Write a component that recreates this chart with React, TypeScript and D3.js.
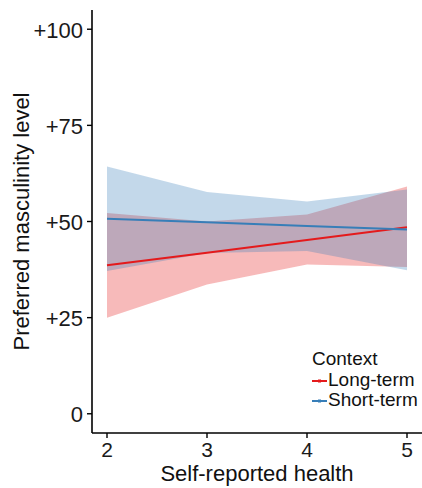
import React from "react";
import * as d3 from "d3";

// Self-reported health levels on the x axis
const healthLevels = [2, 3, 4, 5];

// Long-term context: fitted preference and confidence band
const longFit = [38.6, 41.9, 45.2, 48.5];
const longLower = [25.0, 33.6, 38.8, 38.2];
const longUpper = [52.2, 50.0, 51.8, 59.1];

// Short-term context: fitted preference and confidence band
const shortFit = [50.7, 49.8, 48.8, 47.9];
const shortLower = [37.1, 41.8, 42.3, 37.3];
const shortUpper = [64.3, 57.7, 55.2, 58.3];

const yTicks = [0, 25, 50, 75, 100];
const yTickLabels = ["0", "+25", "+50", "+75", "+100"];
const xTicks = [2, 3, 4, 5];

const legendTitle = "Context";
const legendLabels = ["Long-term", "Short-term"];

const W = 422;
const H = 488;
const FONT = "'Liberation Sans', Arial, Helvetica, sans-serif";
const RED = "#E41A1C";
const BLUE = "#377EB8";

export default function App() {
  const panel = { left: 92, right: 422, top: 10, bottom: 433 };
  const x = d3.scaleLinear().domain([1.85, 5.15]).range([panel.left, panel.right]);
  const y = d3.scaleLinear().domain([-5, 105]).range([panel.bottom, panel.top]);

  const series = [
    { color: RED, fit: longFit, lower: longLower, upper: longUpper },
    { color: BLUE, fit: shortFit, lower: shortLower, upper: shortUpper },
  ];

  const area = (lo: number[], hi: number[]) =>
    d3
      .area<number>()
      .x((d) => x(d))
      .y0((_, i) => y(lo[i]))
      .y1((_, i) => y(hi[i]))(healthLevels) as string;

  const line = (vals: number[]) =>
    d3
      .line<number>()
      .x((d) => x(d))
      .y((_, i) => y(vals[i]))(healthLevels) as string;

  const legendX = 312;
  const legendRows = [381, 401];

  return (
    <svg
      width={W}
      height={H}
      style={{ position: "absolute", left: 0, top: 0, background: "#fff" }}
      fontFamily={FONT}
    >
      {/* confidence bands */}
      {series.map((s, i) => (
        <path key={"band" + i} d={area(s.lower, s.upper)} fill={s.color} fillOpacity={0.3} stroke="none" />
      ))}
      {/* fitted lines */}
      {series.map((s, i) => (
        <path key={"line" + i} d={line(s.fit)} fill="none" stroke={s.color} strokeWidth={2} />
      ))}

      {/* y axis */}
      <line x1={panel.left} x2={panel.left} y1={panel.top} y2={panel.bottom} stroke="#000" strokeWidth={1.6} />
      {yTicks.map((t, i) => (
        <g key={"yt" + t}>
          <line x1={panel.left - 5} x2={panel.left} y1={y(t)} y2={y(t)} stroke="#000" strokeWidth={1.4} />
          <text
            x={panel.left - 9}
            y={y(t) + 1}
            textAnchor="end"
            dominantBaseline="central"
            fontSize={22}
            fill="#1a1a1a"
          >
            {yTickLabels[i]}
          </text>
        </g>
      ))}

      {/* x axis */}
      <line x1={panel.left} x2={panel.right} y1={panel.bottom} y2={panel.bottom} stroke="#000" strokeWidth={1.6} />
      {xTicks.map((t) => (
        <g key={"xt" + t}>
          <line x1={x(t)} x2={x(t)} y1={panel.bottom} y2={panel.bottom + 5} stroke="#000" strokeWidth={1.4} />
          <text x={x(t)} y={panel.bottom + 24} textAnchor="middle" fontSize={21} fill="#1a1a1a">
            {t}
          </text>
        </g>
      ))}

      {/* axis titles */}
      <text x={257} y={481} textAnchor="middle" fontSize={22} fill="#111">
        Self-reported health
      </text>
      <text
        transform={`translate(29, ${(panel.top + panel.bottom) / 2}) rotate(-90)`}
        textAnchor="middle"
        fontSize={22}
        fill="#111"
      >
        Preferred masculinity level
      </text>

      {/* legend */}
      <text x={legendX} y={365} fontSize={19} fill="#111">
        {legendTitle}
      </text>
      {legendLabels.map((lab, i) => (
        <g key={lab}>
          <line
            x1={legendX}
            x2={legendX + 15}
            y1={legendRows[i]}
            y2={legendRows[i]}
            stroke={series[i].color}
            strokeWidth={2}
          />
          <rect
            x={legendX + 6}
            y={legendRows[i] - 1.5}
            width={3}
            height={3}
            fill={series[i].color}
          />
          <text x={legendX + 16} y={legendRows[i] + 5} fontSize={19} fill="#111">
            {lab}
          </text>
        </g>
      ))}
    </svg>
  );
}
